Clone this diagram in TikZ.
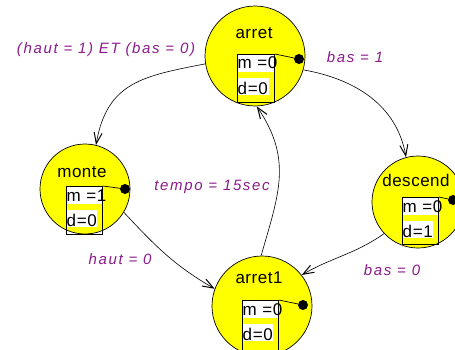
\documentclass[tikz,border=0pt]{standalone}
\usepackage{fontspec}
\setmainfont{Liberation Sans}
\usetikzlibrary{arrows.meta}
\definecolor{stfill}{RGB}{255,255,0}
\definecolor{lblcol}{RGB}{139,26,139}
\tikzset{
  state/.style={circle, draw=black, fill=stfill, line width=0.7pt, inner sep=0pt, minimum size=#1},
  statename/.style={font=\fontsize{17}{20}\selectfont\addfontfeature{LetterSpace=3}, inner sep=0pt, anchor=base},
  varbox/.style={draw=black, line width=0.8pt, anchor=north west, minimum width=#1, minimum height=48pt, inner sep=0pt},
  varrow/.style={fill=white, draw=none, anchor=north west, inner sep=0pt, minimum width=#1, minimum height=17pt},
  vartext/.style={anchor=base west, inner sep=0pt, font=\fontsize{17}{20}\selectfont\addfontfeature{LetterSpace=4}},
  outdot/.style={circle, fill=black, inner sep=0pt, minimum size=10pt},
  trans/.style={draw=black, line width=0.6pt, -{Straight Barb[length=11pt,width=8pt,line width=1pt]}},
  cond/.style={text=lblcol, inner sep=0pt, font=\fontsize{15}{18}\selectfont\itshape\addfontfeature{LetterSpace=11}}
}
\begin{document}
\begin{tikzpicture}[x=1pt,y=1pt]
  \useasboundingbox (0,0) rectangle (455,349);
  \clip (0,0) rectangle (455,349);

  % states
  \node[state=100pt] (arret)   at (255,293) {};
  \node[state=90pt]  (monte)   at (85,160)  {};
  \node[state=92pt]  (descend) at (418,147) {};
  \node[state=100pt] (arret1)  at (262,43)  {};

  \node[statename] (arret-name)   at (254,310) {arret};
  \node[statename] (monte-name)   at (82,172)  {monte};
  \node[statename] (descend-name) at (416,163) {descend};
  \node[statename] (arret1-name)  at (259,66)  {arret1};

  % output box of arret
  \node[varrow=36pt] (arret-mrow) at (237.5,294.5) {};
  \node[varrow=31pt] (arret-drow) at (237.5,271) {};
  \node[varbox=37pt] (arret-box) at (237,295) {};
  \node[vartext] (arret-m) at (237.5,280) {m =0};
  \node[vartext] (arret-d) at (237.5,255) {d=0};
  \node[outdot] (arret-dot) at (299,290) {};
  \draw[line width=0.7pt] (arret-box.north east) -- (arret-dot);

  % output box of monte
  \node[varrow=35pt] (monte-mrow) at (66.5,162.5) {};
  \node[varrow=30pt] (monte-drow) at (66.5,139) {};
  \node[varbox=36pt] (monte-box) at (66,163) {};
  \node[vartext] (monte-m) at (66.5,148) {m =1};
  \node[vartext] (monte-d) at (66.5,123) {d=0};
  \node[outdot] (monte-dot) at (125,160) {};
  \draw[line width=0.7pt] (monte-box.north east) -- (monte-dot);

  % output box of descend
  \node[varrow=35pt] (descend-mrow) at (402.5,151.5) {};
  \node[varrow=30pt] (descend-drow) at (402.5,128) {};
  \node[varbox=36pt, minimum height=47pt] (descend-box) at (402,152) {};
  \node[vartext] (descend-m) at (402.5,137) {m =0};
  \node[vartext] (descend-d) at (402.5,112) {d=1};
  \node[outdot] (descend-dot) at (453,149) {};
  \draw[line width=0.7pt] (descend-box.north east) -- (descend-dot);

  % output box of arret1
  \node[varrow=35pt] (arret1-mrow) at (242.5,48.5) {};
  \node[varrow=30pt] (arret1-drow) at (242.5,25) {};
  \node[varbox=36pt, minimum height=52pt] (arret1-box) at (242,49) {};
  \node[vartext] (arret1-m) at (242.5,34) {m =0};
  \node[vartext] (arret1-d) at (242.5,9) {d=0};
  \node[outdot] (arret1-dot) at (303,44) {};
  \draw[line width=0.7pt] (arret1-box.north east) -- (arret1-dot);

  % transitions
  \draw[trans] (arret.189)   to[out=191, in=80, looseness=1.2] (monte.76);
  \draw[trans] (arret.-16)   to[out=-10, in=100] (descend.105);
  \draw[trans] (monte.-31)   to[out=-47, in=150] (arret1.160);
  \draw[trans] (descend.223) to[out=215, in=30]  (arret1.38);
  \draw[trans] (arret1.91)   to[out=74,  in=-56, looseness=1.1] (arret.-88);

  % transition conditions
  \node[cond] (c-am) at (106,299) {(haut = 1) ET (bas = 0)};
  \node[cond] (c-ad) at (355,292) {bas = 1};
  \node[cond] (c-aa) at (212,162) {tempo = 15sec};
  \node[cond] (c-ma) at (120,90)  {haut = 0};
  \node[cond] (c-da) at (392,79)  {bas = 0};
\end{tikzpicture}
\end{document}
